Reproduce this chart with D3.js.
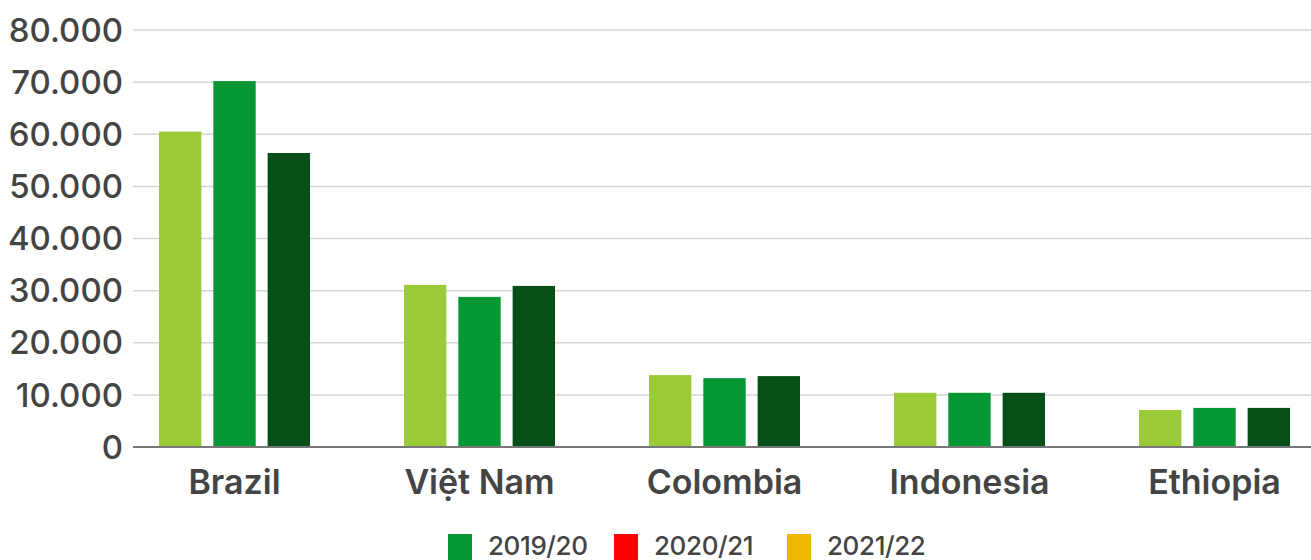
<!DOCTYPE html>
<html>
<head>
<meta charset="utf-8">
<script src="https://cdn.jsdelivr.net/npm/d3@7"></script>
<style>
  html, body { margin: 0; padding: 0; background: #fff; }
  svg { display: block; }
  svg text { font-family: Inter, "Noto Sans", sans-serif; }
</style>
</head>
<body>
<svg id="chart" width="1311" height="560"></svg>
<script>
// Coffee production by country, three crop years
const countries = ["Brazil", "Việt Nam", "Colombia", "Indonesia", "Ethiopia"];
const seasons = ["2019/20", "2020/21", "2021/22"];
const values2019 = [60500, 31100, 13800, 10400, 7100];
const values2020 = [70200, 28800, 13200, 10400, 7500];
const values2021 = [56400, 30900, 13600, 10400, 7500];
const yTicks = [0, 10000, 20000, 30000, 40000, 50000, 60000, 70000, 80000];

const barColors = ["#9aca38", "#039834", "#074f19"];
const legendColors = ["#039834", "#ff0000", "#efb800"];

const seriesValues = [values2019, values2020, values2021];
const rows = countries.map((c, i) => ({
  country: c,
  values: seasons.map((s, j) => ({ season: s, value: seriesValues[j][i], idx: j }))
}));

const FONT = "Inter, 'Noto Sans', sans-serif";
const svg = d3.select("#chart");
const plotLeft = 133, plotRight = 1311, plotTop = 30, plotBottom = 447;

const x0 = d3.scaleBand().domain(countries).range([112, 1337]).paddingInner(0).paddingOuter(0);
const x1 = d3.scaleBand().domain(seasons).range([0, 151]).paddingInner(0.22);
const groupOffset = (x0.bandwidth() - 151) / 2;

const y = d3.scaleLinear().domain([0, 80000]).range([plotBottom, plotTop]);

const fmt = v => v === 0 ? "0" : d3.format(",")(v).replace(/,/g, ".");

// gridlines
svg.append("g")
  .selectAll("line")
  .data(yTicks.filter(t => t > 0))
  .join("line")
  .attr("x1", plotLeft).attr("x2", plotRight)
  .attr("y1", d => y(d)).attr("y2", d => y(d))
  .attr("stroke", "#d6d6d6").attr("stroke-width", 1.5);

// y axis labels
const yAxis = d3.axisLeft(y).tickValues(yTicks).tickFormat(fmt).tickSize(0).tickPadding(10);
const gy = svg.append("g").attr("transform", `translate(${plotLeft},0)`).call(yAxis)
  .attr("font-family", FONT);
gy.select(".domain").remove();
gy.selectAll("text")
  .attr("font-size", 33).attr("font-weight", 500).attr("fill", "#444").attr("dy", "0.34em");

// bars
svg.append("g")
  .selectAll("g")
  .data(rows)
  .join("g")
  .attr("transform", d => `translate(${x0(d.country) + groupOffset},0)`)
  .selectAll("rect")
  .data(d => d.values)
  .join("rect")
  .attr("x", d => x1(d.season))
  .attr("width", x1.bandwidth())
  .attr("y", d => y(d.value))
  .attr("height", d => y(0) - y(d.value))
  .attr("fill", d => barColors[d.idx]);

// baseline
svg.append("line")
  .attr("x1", plotLeft).attr("x2", plotRight)
  .attr("y1", y(0)).attr("y2", y(0))
  .attr("stroke", "#777").attr("stroke-width", 2);

// category labels
const xAxis = d3.axisBottom(x0).tickSize(0).tickPadding(0);
const gx = svg.append("g").attr("transform", `translate(0,${plotBottom})`).call(xAxis)
  .attr("font-family", FONT);
gx.select(".domain").remove();
gx.selectAll("text")
  .attr("y", 47).attr("dy", 0)
  .attr("font-size", 34).attr("font-weight", 600).attr("fill", "#444");

// legend
const legendX = [448, 614, 787];
const legend = svg.append("g")
  .attr("font-family", FONT)
  .selectAll("g")
  .data(seasons)
  .join("g")
  .attr("transform", (d, i) => `translate(${legendX[i]},534)`);
legend.append("rect")
  .attr("width", 24).attr("height", 26)
  .attr("fill", (d, i) => legendColors[i]);
legend.append("text")
  .attr("x", 40).attr("y", 21)
  .attr("font-size", 26).attr("font-weight", 500).attr("fill", "#444")
  .attr("letter-spacing", -0.4)
  .text(d => d);
</script>
</body>
</html>
